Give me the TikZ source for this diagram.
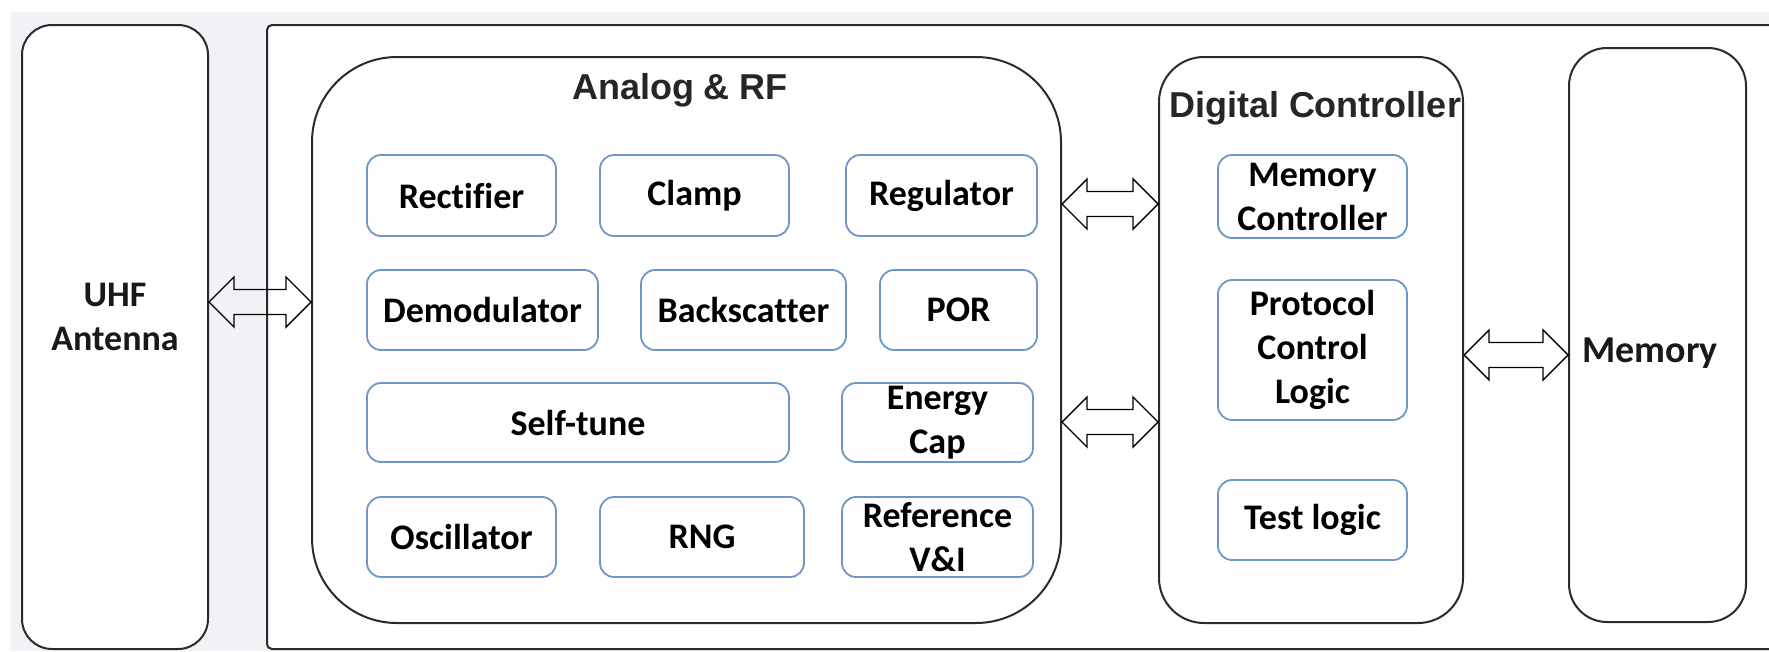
\documentclass[tikz,border=0pt]{standalone}
\usepackage{fontspec}
\setmainfont{Carlito}[Ligatures=CommonOff]
\newfontfamily\arialfont{Liberation Sans}
\usepackage{xcolor}
\usetikzlibrary{calc}
\definecolor{blockblue}{HTML}{6E96C8}
\definecolor{framegray}{HTML}{2B2B2B}
\definecolor{backgray}{HTML}{F1F1F6}
\tikzset{
	frame/.style={draw=framegray, line width=2pt, fill=white, inner sep=0pt},
	block/.style={draw=blockblue, line width=1.8pt, fill=white, rounded corners=14pt,
		inner sep=0pt, align=center, font=\bfseries\fontsize{36}{44}\selectfont},
	label/.style={align=center, text=black!90, font=\bfseries\fontsize{36}{44}\selectfont},
	title/.style={text=black!85, font=\arialfont\bfseries\fontsize{36}{44}\selectfont},
	busline/.style={draw=black, line width=1.4pt, line join=miter}
}

% double-headed bus arrow between two nodes at height #3
\newcommand{\busarrow}[3]{%
	\coordinate (bl) at (#1.east |- 0,#3);
	\coordinate (br) at (#2.west |- 0,#3);
	\draw[busline] (bl) -- ($(bl)+(25,25)$) -- ($(bl)+(25,12.5)$) -- ($(br)+(-25,12.5)$)
		-- ($(br)+(-25,25)$) -- (br) -- ($(br)+(-25,-25)$) -- ($(br)+(-25,-12.5)$)
		-- ($(bl)+(25,-12.5)$) -- ($(bl)+(25,-25)$) -- cycle;
}

\begin{document}
\begin{tikzpicture}[x=1pt, y=-1pt]

\useasboundingbox (0,0) rectangle (1769,651);
\clip (0,0) rectangle (1769,651);
\fill[backgray] (11,12) rectangle (1769,651);

% antenna and chip outline
\node[frame, rounded corners=30pt, minimum width=186pt, minimum height=624pt] (ant) at (115,337) {};
\node[label] (anttxt) at (115,317) {UHF\\Antenna};
\draw[framegray, line width=2pt, fill=white, rounded corners=5pt] (267,25) rectangle (1800,649);

% analog & RF
\node[frame, rounded corners=85pt, minimum width=749pt, minimum height=566pt] (rf) at (686.5,340) {};
\node[title] (rftitle) at (680,90) {Analog \& RF};

\node[block, minimum width=189pt, minimum height=81pt] (rect)  at (461.5,195.5) {Rectifier};
\node[block, minimum width=189pt, minimum height=81pt] (clamp) at (694.5,195.5) {Clamp};
\node[block, minimum width=191pt, minimum height=81pt] (reg)   at (941.5,195.5) {Regulator};

\node[block, minimum width=231pt, minimum height=80pt] (demod) at (482.5,310) {Demodulator};
\node[block, minimum width=205pt, minimum height=80pt] (bsc)   at (743.5,310) {Backscatter};
\node[block, minimum width=157pt, minimum height=80pt] (por)   at (958.5,310) {POR};

\node[block, minimum width=422pt, minimum height=79pt] (tune)  at (578,422.5) {Self-tune};
\node[block, minimum width=191pt, minimum height=79pt] (ecap)  at (937.5,422.5) {Energy\\Cap};

\node[block, minimum width=189pt, minimum height=80pt] (osc)   at (461.5,537) {Oscillator};
\node[block, minimum width=204pt, minimum height=80pt] (rng)   at (702,537) {RNG};
\node[block, minimum width=191pt, minimum height=80pt] (vref)  at (937.5,537) {Reference\\V\&I};

% digital controller
\node[frame, rounded corners=45pt, minimum width=304pt, minimum height=566pt] (dig) at (1311,340) {};
\node[title] (digtitle) at (1315,108) {Digital Controller};

\node[block, minimum width=189pt, minimum height=83pt]  (memctl) at (1312.5,196.5) {Memory\\Controller};
\node[block, minimum width=189pt, minimum height=140pt] (pcl)    at (1312.5,350) {Protocol\\Control\\Logic};
\node[block, minimum width=189pt, minimum height=80pt]  (test)   at (1312.5,520) {Test logic};

% memory
\node[frame, rounded corners=38pt, minimum width=177pt, minimum height=574pt] (mem) at (1657.5,335) {};
\node[label, font=\bfseries\fontsize{38}{46}\selectfont] (memtxt) at (1650,353) {Memory};

% buses
\busarrow{ant}{rf}{302}
\busarrow{rf}{dig}{204}
\busarrow{rf}{dig}{422}
\busarrow{dig}{mem}{355}

\end{tikzpicture}
\end{document}
